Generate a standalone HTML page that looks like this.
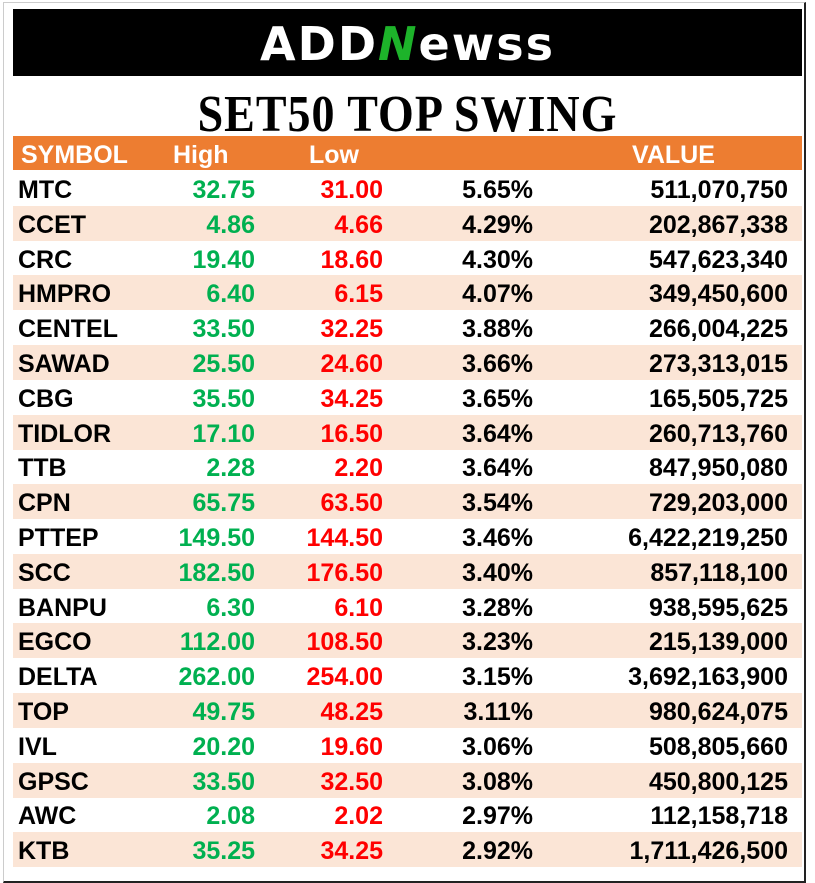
<!DOCTYPE html>
<html><head><meta charset="utf-8"><style>
body{margin:0;width:815px;height:883px;background:#fff;position:relative;overflow:hidden;font-family:"Liberation Sans",sans-serif}
.frame{position:absolute;left:3px;top:2px;width:800px;height:878px;border-right:2px solid #222;border-bottom:2px solid #222;border-top:1px solid #ccc;border-left:1px solid #ccc}
.hdr{position:absolute;left:13px;top:9px;width:789px;height:67px;background:#000}
.logo{position:absolute;left:0;width:789px;top:8px;text-align:center;color:#fff;font-weight:bold;font-size:46px;letter-spacing:2px;font-family:"DejaVu Sans","Liberation Sans",sans-serif}
.logo .n{color:#1db32a;font-style:italic}
.title{position:absolute;left:0;width:815px;top:84px;text-align:center;font-family:"Liberation Serif",serif;font-weight:bold;font-size:46px;letter-spacing:1px;transform:scaleY(1.12);transform-origin:50% 0}
.row{position:absolute;left:13px;width:789px;height:35px;font-weight:bold;font-size:25px;line-height:38px}
.row span{position:absolute;top:0}
.h{background:#ed7d31;color:#fff;top:136px;height:34px;line-height:38px}
.p{background:#fbe5d6}
.s{left:5px}.hi{right:547px;color:#00b050}.lo{right:419px;color:#f00}.pc{right:269px}.v{right:14px}
</style></head><body>
<div class="frame"></div>
<div class="hdr"><div class="logo">ADD<span class="n">N</span>ewss</div></div>
<div class="title">SET50 TOP SWING</div>
<div class="row h"><span style="left:8px">SYMBOL</span><span style="left:160px">High</span><span style="left:296px">Low</span><span style="left:619px">VALUE</span></div>
<div id="t"></div>
<script>
var d=[["MTC","32.75","31.00","5.65%","511,070,750"],["CCET","4.86","4.66","4.29%","202,867,338"],["CRC","19.40","18.60","4.30%","547,623,340"],["HMPRO","6.40","6.15","4.07%","349,450,600"],["CENTEL","33.50","32.25","3.88%","266,004,225"],["SAWAD","25.50","24.60","3.66%","273,313,015"],["CBG","35.50","34.25","3.65%","165,505,725"],["TIDLOR","17.10","16.50","3.64%","260,713,760"],["TTB","2.28","2.20","3.64%","847,950,080"],["CPN","65.75","63.50","3.54%","729,203,000"],["PTTEP","149.50","144.50","3.46%","6,422,219,250"],["SCC","182.50","176.50","3.40%","857,118,100"],["BANPU","6.30","6.10","3.28%","938,595,625"],["EGCO","112.00","108.50","3.23%","215,139,000"],["DELTA","262.00","254.00","3.15%","3,692,163,900"],["TOP","49.75","48.25","3.11%","980,624,075"],["IVL","20.20","19.60","3.06%","508,805,660"],["GPSC","33.50","32.50","3.08%","450,800,125"],["AWC","2.08","2.02","2.97%","112,158,718"],["KTB","35.25","34.25","2.92%","1,711,426,500"]];
var h="";d.forEach(function(r,i){h+='<div class="row'+(i%2?' p':'')+'" style="top:'+(171+i*34.8)+'px"><span class="s">'+r[0]+'</span><span class="hi">'+r[1]+'</span><span class="lo">'+r[2]+'</span><span class="pc">'+r[3]+'</span><span class="v">'+r[4]+'</span></div>'});
document.getElementById("t").innerHTML=h;
</script>
</body></html>
